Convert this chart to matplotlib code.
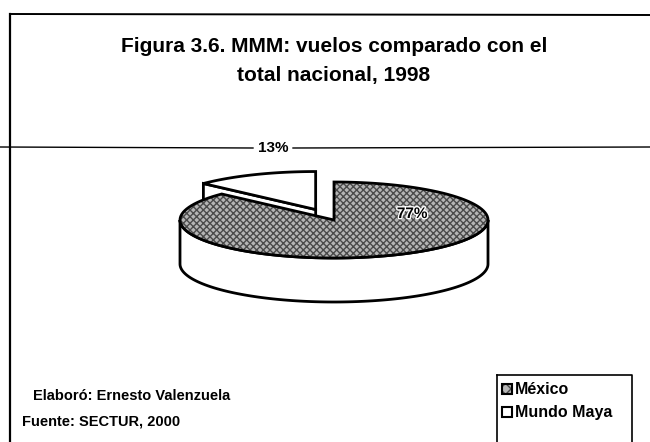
import numpy as np
import matplotlib
matplotlib.use('Agg')
import matplotlib.pyplot as plt
from matplotlib.patches import Polygon, Rectangle
import matplotlib.patheffects as pe

plt.rcParams['font.family'] = ['Liberation Sans', 'DejaVu Sans']

# datos
categorias = ['México', 'Mundo Maya']
valores = [87, 13]
etiquetas_pct = ['77%', '13%']
titulo = 'Figura 3.6. MMM: vuelos comparado con el\ntotal nacional, 1998'
nota_elaboro = 'Elaboró: Ernesto Valenzuela'
nota_fuente = 'Fuente: SECTUR, 2000'

# geometría del pastel 3D (en píxeles)
cx, cy = 334, 220
ra, rb = 154, 38
prof = 44
explode = 0.30
inicio = 90.0


def punto(t, dx=0, dy=0, z=0):
    r = np.radians(t)
    return (cx + dx + ra * np.cos(r), cy + dy - rb * np.sin(r) + z)


def arco(t0, t1, dx=0, dy=0, z=0, n=120):
    ts = np.linspace(t0, t1, n)
    return [punto(t, dx, dy, z) for t in ts]


fig = plt.figure(figsize=(6.5, 4.42), dpi=100)
ax = fig.add_axes([0, 0, 1, 1])
ax.set_xlim(0, 650)
ax.set_ylim(442, 0)
ax.axis('off')

# marco
ax.plot([10, 10], [14, 442], color='black', lw=1.6)
ax.plot([10, 650], [14, 15], color='black', lw=1.4)
ax.plot([0, 253], [147, 148], color='black', lw=1.0)
ax.plot([293, 650], [148, 147], color='black', lw=1.0)

# ángulos de cada rebanada (México en sentido horario desde Mundo Maya)
total = sum(valores)
ang_mm = valores[1] / total * 360
t_mm0, t_mm1 = inicio, inicio + ang_mm
t_mx0, t_mx1 = t_mm1, inicio + 360

# rebanada separada (Mundo Maya)
tm = np.radians((t_mm0 + t_mm1) / 2)
ox = explode * ra * np.cos(tm)
oy = -explode * rb * np.sin(tm)
c_mm = (cx + ox, cy + oy)
cara = [c_mm, punto(t_mm1, ox, oy), punto(t_mm1, ox, oy, prof), (c_mm[0], c_mm[1] + prof)]
ax.add_patch(Polygon(cara, closed=True, fc='white', ec='black', lw=2, zorder=2))
sup_mm = [c_mm] + arco(t_mm0, t_mm1, ox, oy)
ax.add_patch(Polygon(sup_mm, closed=True, fc='white', ec='black', lw=2, zorder=2))

# rebanada México: pared frontal y superficie
pared = arco(180, 360) + arco(360, 180, z=prof)
ax.add_patch(Polygon(pared, closed=True, fc='white', ec='black', lw=2, zorder=3))
sup_mx = [(cx, cy)] + arco(t_mx0, t_mx1)
ax.add_patch(Polygon(sup_mx, closed=True, fc='#b5b5b5', ec='#4a4a4a', lw=0,
                     hatch='xxxxx', zorder=4))
ax.add_patch(Polygon(sup_mx, closed=True, fc='none', ec='black', lw=2, zorder=5))

# etiquetas de porcentaje
ax.text(412, 214, etiquetas_pct[0], fontsize=11, fontweight='bold', ha='center',
        va='center', color='black', zorder=6,
        path_effects=[pe.withStroke(linewidth=2, foreground='white')])
ax.text(273, 148, etiquetas_pct[1], fontsize=11, fontweight='bold', ha='center',
        va='center', color='black', zorder=6)

# título
ax.text(334, 61, titulo, fontsize=15, fontweight='bold', ha='center', va='center',
        linespacing=1.6)

# notas
ax.text(33, 396, nota_elaboro, fontsize=10.5, fontweight='bold', ha='left', va='center')
ax.text(22, 421, nota_fuente, fontsize=10.5, fontweight='bold', ha='left', va='center')

# leyenda
ax.plot([497, 632, 632], [375, 375, 442], color='black', lw=1.2)
ax.plot([497, 497], [375, 442], color='black', lw=1.2)
ax.add_patch(Rectangle((502, 384), 10, 10, fc='#b5b5b5', ec='#4a4a4a', lw=0, hatch='xxx'))
ax.add_patch(Rectangle((502, 384), 10, 10, fc='none', ec='black', lw=1.5))
ax.add_patch(Rectangle((502, 407), 10, 10, fc='white', ec='black', lw=1.5))
ax.text(515, 389, categorias[0], fontsize=11.5, fontweight='bold', ha='left', va='center')
ax.text(515, 412, categorias[1], fontsize=11.5, fontweight='bold', ha='left', va='center')

fig.savefig('out.png', dpi=100, facecolor='white')
